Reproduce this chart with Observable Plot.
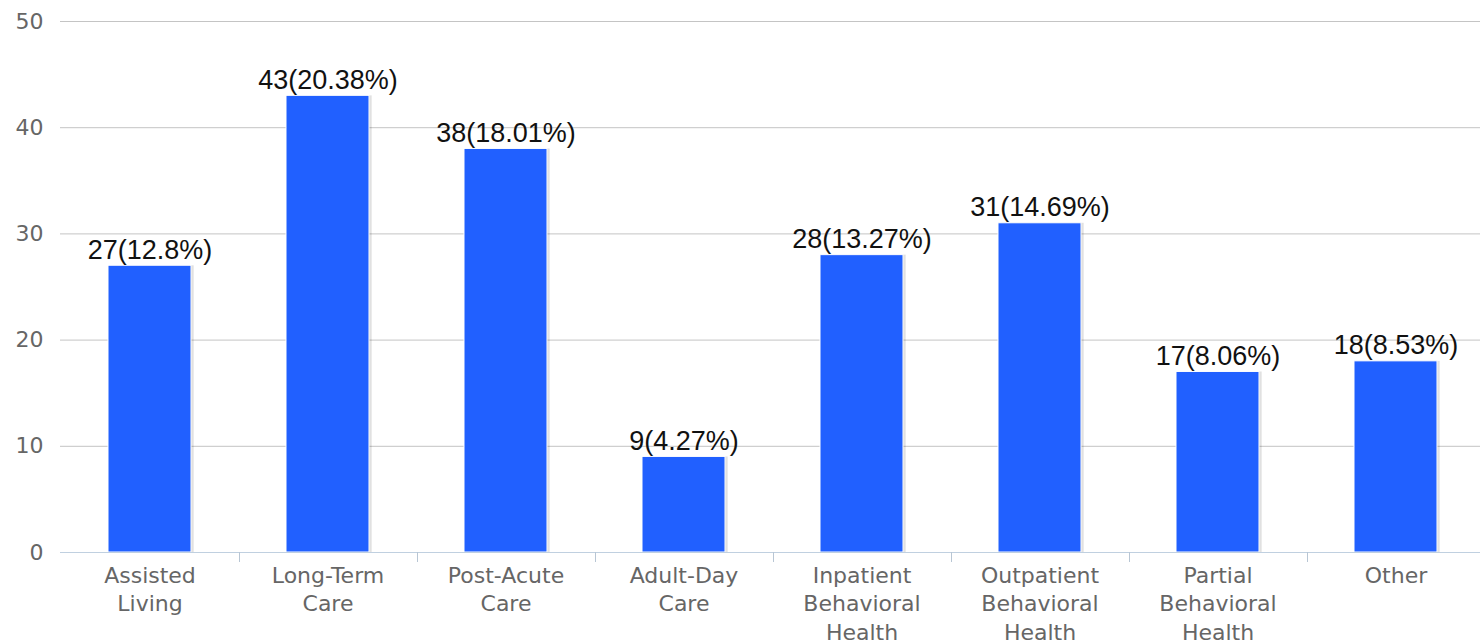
<!DOCTYPE html>
<html><head><meta charset="utf-8">
<script src="https://cdn.jsdelivr.net/npm/d3@7"></script>
<script src="https://cdn.jsdelivr.net/npm/@observablehq/plot@0.6"></script>
<style>
html,body{margin:0;padding:0;background:#fff;overflow:hidden}
</style></head><body><div id="chart"></div>
<script>
const categories = ["Assisted Living","Long-Term Care","Post-Acute Care","Adult-Day Care","Inpatient Behavioral Health","Outpatient Behavioral Health","Partial Behavioral Health","Other"];
const tickLabels = ["Assisted\nLiving","Long-Term\nCare","Post-Acute\nCare","Adult-Day\nCare","Inpatient\nBehavioral\nHealth","Outpatient\nBehavioral\nHealth","Partial\nBehavioral\nHealth","Other"];
const counts = [27,43,38,9,28,31,17,18];
const percents = ["12.8","20.38","18.01","4.27","13.27","14.69","8.06","8.53"];
const yTicks = [0,10,20,30,40,50];

const data = categories.map((c,i)=>({category:c, count:counts[i], label:`${counts[i]}(${percents[i]}%)`}));

function separators(index, scales, values, dimensions) {
  const sx = scales.x;
  const desc = scales.scales && scales.scales.x;
  const bw = sx.bandwidth ? sx.bandwidth() : desc.bandwidth;
  const step = sx.step ? sx.step() : (sx(categories[1]) - sx(categories[0]));
  const y0 = dimensions.height - dimensions.marginBottom;
  const g = d3.create("svg:g");
  categories.slice(0,-1).forEach(c => {
    const bx = Math.round(sx(c) + bw + (step - bw)/2) + 0.5;
    g.append("line").attr("x1",bx).attr("x2",bx).attr("y1",y0).attr("y2",y0+10)
      .attr("stroke","#b8c6d4").attr("stroke-width",1);
  });
  return g.node();
}

const chart = Plot.plot({
  width: 1480, height: 643,
  marginTop: 21, marginBottom: 91, marginLeft: 60, marginRight: -4,
  style: {fontFamily: "'DejaVu Sans', sans-serif", background: "#fff", overflow: "hidden"},
  x: {domain: categories, paddingInner: 0.534, paddingOuter: 0.267, label: null},
  y: {domain: [0,50], label: null},
  marks: [
    Plot.ruleY(yTicks.filter(d=>d>0), {stroke:"#c4c4c4", strokeWidth:1}),
    Plot.axisY({ticks: yTicks, tickSize: 0, tickPadding: 17, fontSize: 22, color:"#666", label:null}),
    Plot.axisX({tickSize:0, tickPadding: 10, fontSize: 22, color:"#666", lineHeight: 1.3, tickFormat: d => tickLabels[categories.indexOf(d)], label: null}),
    Plot.barY(data, {x:"category", y:"count", fill:"#000", fillOpacity:0.08, dx:3}),
    Plot.barY(data, {x:"category", y:"count", fill:"#000", fillOpacity:0.08, dx:1.5}),
    Plot.barY(data, {x:"category", y:"count", fill:"#2160ff", stroke:"#fff", strokeWidth:1}),
    Plot.ruleY([0], {stroke:"#c0d0e0"}),
    separators,
    Plot.text(data, {x:"category", y:"count", text:"label", lineAnchor:"bottom", dy:-7, fontSize:27, fontFamily:"'Liberation Sans', Arial, sans-serif", fill:"#111"})
  ]
});
document.getElementById("chart").appendChild(chart);
</script>
</body></html>
